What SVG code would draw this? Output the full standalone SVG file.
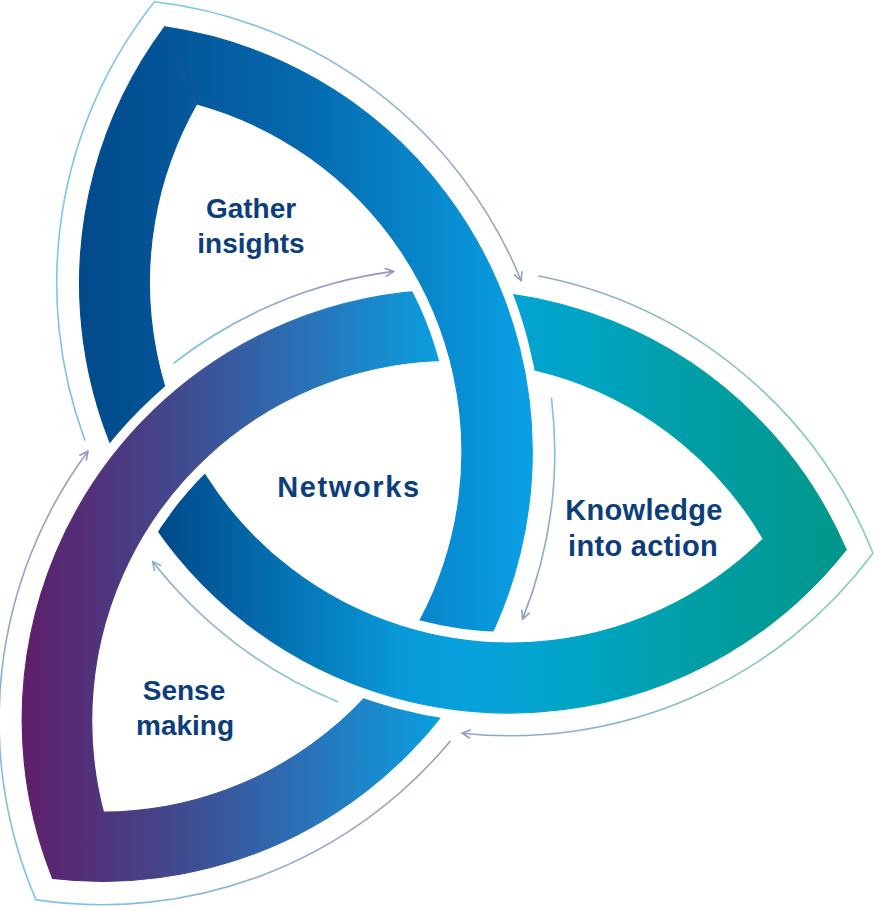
<svg xmlns="http://www.w3.org/2000/svg" width="879" height="907" viewBox="0 0 879 907">
<defs>
<style>
.t{font-family:"Liberation Sans",Arial,sans-serif;font-weight:700;fill:#0c3e7c;text-anchor:middle}
.ln{fill:none;stroke-width:1.6;stroke-linecap:round}
.bd{stroke-width:1.2;stroke-linejoin:round}
</style>
<linearGradient id="gTop" gradientUnits="userSpaceOnUse" x1="80" y1="0" x2="530" y2="0">
<stop offset="0" stop-color="#01498a"/><stop offset="0.49" stop-color="#0568ad"/><stop offset="1" stop-color="#0aa0e4"/>
</linearGradient>
<linearGradient id="gRight" gradientUnits="userSpaceOnUse" x1="165" y1="0" x2="847" y2="0">
<stop offset="0" stop-color="#004b8c"/><stop offset="0.345" stop-color="#0898d8"/><stop offset="0.447" stop-color="#07a2de"/><stop offset="0.608" stop-color="#00a4c4"/><stop offset="0.784" stop-color="#009ea4"/><stop offset="1" stop-color="#00968a"/>
</linearGradient>
<linearGradient id="gPurple" gradientUnits="userSpaceOnUse" x1="25" y1="0" x2="445" y2="0">
<stop offset="0" stop-color="#5e1f6b"/><stop offset="0.369" stop-color="#414a8e"/><stop offset="0.655" stop-color="#2b70b6"/><stop offset="1" stop-color="#08a0e0"/>
</linearGradient>
<linearGradient id="gTop240" href="#gTop" gradientTransform="rotate(-240 354.5 485)"/>
<linearGradient id="gRight120" href="#gRight" gradientTransform="rotate(-120 354.5 485)"/>
<linearGradient id="gPurple120" href="#gPurple" gradientTransform="rotate(-120 354.5 485)"/>
<linearGradient id="gPurple240" href="#gPurple" gradientTransform="rotate(-240 354.5 485)"/>
<linearGradient id="gL1" gradientUnits="userSpaceOnUse" x1="150" y1="100" x2="523" y2="280">
<stop offset="0" stop-color="#7cc7e4"/><stop offset="1" stop-color="#9ea2c6"/>
</linearGradient>
<linearGradient id="gL2" gradientUnits="userSpaceOnUse" x1="470" y1="0" x2="870" y2="0">
<stop offset="0" stop-color="#8fa5c8"/><stop offset="1" stop-color="#80cec6"/>
</linearGradient>
<radialGradient id="gL3" gradientUnits="userSpaceOnUse" cx="36" cy="900" r="460" fx="36" fy="900">
<stop offset="0" stop-color="#78c9e8"/><stop offset="1" stop-color="#a696c0"/>
</radialGradient>
<linearGradient id="gGather" gradientUnits="userSpaceOnUse" x1="177" y1="0" x2="394" y2="0">
<stop offset="0" stop-color="#7fc4e0"/><stop offset="1" stop-color="#a28fbe"/>
</linearGradient>
<linearGradient id="gKnow" gradientUnits="userSpaceOnUse" x1="0" y1="398" x2="0" y2="620">
<stop offset="0" stop-color="#80c4e2"/><stop offset="1" stop-color="#8e9dc6"/>
</linearGradient>
<linearGradient id="gSense" gradientUnits="userSpaceOnUse" x1="338" y1="700" x2="152" y2="562">
<stop offset="0" stop-color="#8ccbd6"/><stop offset="1" stop-color="#8daacd"/>
</linearGradient>
<marker id="ahPurple" viewBox="0 0 10 10" refX="9" refY="5" markerWidth="10" markerHeight="10" markerUnits="userSpaceOnUse" orient="auto">
<path d="M1,1 L9,5 L1,9" fill="none" stroke="#a18fbe" stroke-width="1.6" stroke-linecap="round" stroke-linejoin="round"/>
</marker>
<marker id="ahGrey" viewBox="0 0 10 10" refX="9" refY="5" markerWidth="10" markerHeight="10" markerUnits="userSpaceOnUse" orient="auto">
<path d="M1,1 L9,5 L1,9" fill="none" stroke="#8d9dc4" stroke-width="1.6" stroke-linecap="round" stroke-linejoin="round"/>
</marker>
<marker id="ahLight" viewBox="0 0 10 10" refX="9" refY="5" markerWidth="10" markerHeight="10" markerUnits="userSpaceOnUse" orient="auto">
<path d="M1,1 L9,5 L1,9" fill="none" stroke="#8aaccc" stroke-width="1.6" stroke-linecap="round" stroke-linejoin="round"/>
</marker>
<path id="band" d="M 164.73 26.85 A 429.5 429.5 0 0 0 846.15 549.73 L 763.37 538.83 A 360.5 360.5 0 0 1 196.68 103.99 Z"/>
<clipPath id="cpFirst" clipPathUnits="userSpaceOnUse">
<polygon points="-1628.4,223.9 2337.4,746.1 2598.5,-1236.8 -1367.3,-1759.0"/>
</clipPath>
<clipPath id="cpSecond" clipPathUnits="userSpaceOnUse">
<polygon points="-1628.4,223.9 2337.4,746.1 2076.3,2729.0 -1889.5,2206.8"/>
</clipPath>
<clipPath id="cpLocal" clipPathUnits="userSpaceOnUse">
<circle cx="156.2" cy="458.9" r="130"/>
</clipPath>
<mask id="mGap" maskUnits="userSpaceOnUse" maskContentUnits="userSpaceOnUse" x="-1200" y="-1200" width="3300" height="3300">
<rect x="-1200" y="-1200" width="3300" height="3300" fill="#fff"/>
<g clip-path="url(#cpLocal)"><circle cx="452.08" cy="720.59" r="395" fill="none" stroke="#000" stroke-width="91"/></g>
</mask>
</defs>
<rect width="879" height="907" fill="#fff"/>
<g id="knot">
<g id="arc-c1"><g mask="url(#mGap)">
<use href="#band" class="bd" fill="url(#gTop)" stroke="url(#gTop)" clip-path="url(#cpFirst)"/>
<use href="#band" class="bd" fill="url(#gRight)" stroke="url(#gRight)" clip-path="url(#cpSecond)"/>
</g></g>
<g id="arc-c3" transform="rotate(120 354.5 485)"><g mask="url(#mGap)">
<use href="#band" class="bd" fill="url(#gRight120)" stroke="url(#gRight120)" clip-path="url(#cpFirst)"/>
<use href="#band" class="bd" fill="url(#gPurple120)" stroke="url(#gPurple120)" clip-path="url(#cpSecond)"/>
</g></g>
<g id="arc-c2" transform="rotate(240 354.5 485)"><g mask="url(#mGap)">
<use href="#band" class="bd" fill="url(#gPurple240)" stroke="url(#gPurple240)" clip-path="url(#cpFirst)"/>
<use href="#band" class="bd" fill="url(#gTop240)" stroke="url(#gTop240)" clip-path="url(#cpSecond)"/>
</g></g>
</g>
<g id="connectors">
<path class="ln" stroke="url(#gL1)" marker-end="url(#ahGrey)" d="M 84.8 439.9 A 453 453 0 0 1 154.4 1.8 A 453 453 0 0 1 521.2 280.7"/>
<path class="ln" stroke="url(#gL2)" marker-end="url(#ahGrey)" d="M 538.8 276.0 A 453 453 0 0 1 873.0 553.3 A 453 453 0 0 1 462.0 733.2"/>
<path class="ln" stroke="url(#gL3)" marker-end="url(#ahPurple)" d="M 450.0 741.4 A 453 453 0 0 1 36.1 899.9 A 453 453 0 0 1 87.9 451.2"/>
<path class="ln" stroke="url(#gGather)" marker-end="url(#ahPurple)" d="M 174.0 363.0 A 453 453 0 0 1 393.7 271.4"/>
<path class="ln" stroke="url(#gKnow)" marker-end="url(#ahGrey)" d="M 551.5 398.1 A 453 453 0 0 1 522.6 619.1"/>
<path class="ln" stroke="url(#gSense)" marker-end="url(#ahLight)" d="M 337.3 701.6 A 453 453 0 0 1 152.6 561.6"/>
</g>
<g id="node-gather"><text class="t" font-size="28" x="251" y="218">Gather</text><text class="t" font-size="28" x="251" y="253">insights</text></g>
<g id="node-networks"><text class="t" font-size="29" x="349" y="497" letter-spacing="1.6">Networks</text></g>
<g id="node-knowledge"><text class="t" font-size="29" x="644" y="520" letter-spacing="0.3">Knowledge</text><text class="t" font-size="29" x="643" y="556" letter-spacing="0.3">into action</text></g>
<g id="node-sense"><text class="t" font-size="28" x="184" y="700">Sense</text><text class="t" font-size="28" x="185" y="735">making</text></g>
</svg>
